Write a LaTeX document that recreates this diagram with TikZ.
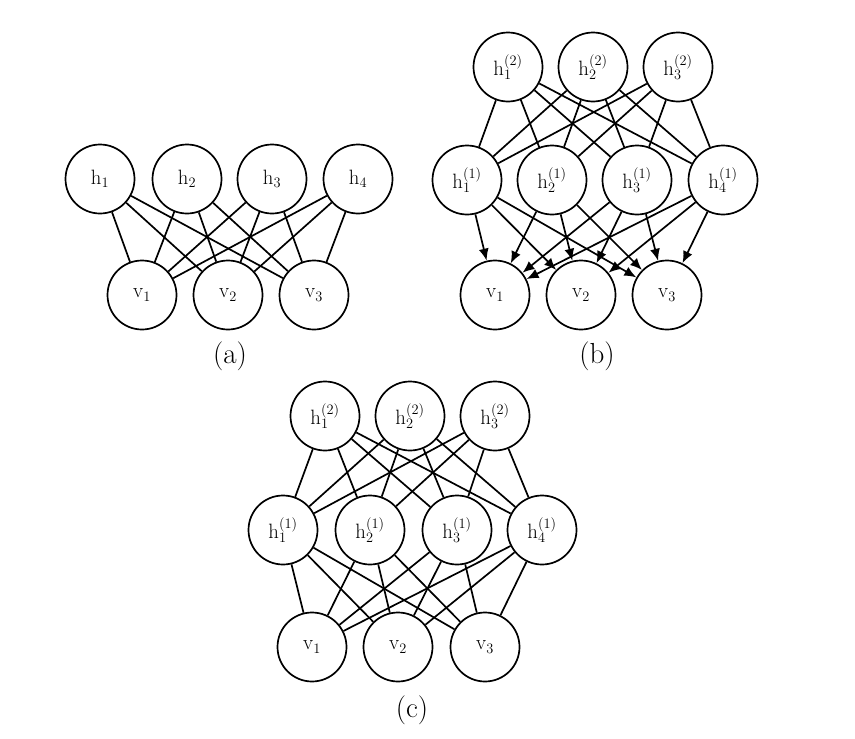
\documentclass[tikz,border=0pt]{standalone}
\usetikzlibrary{arrows.meta}
\begin{document}
\begin{tikzpicture}[x=1pt,y=-1pt,
  unit/.style={circle,draw,line width=1.7pt,minimum size=69pt,inner sep=0pt,font=\fontsize{21}{24}\selectfont},
  edge/.style={line width=1.7pt},
  arr/.style={line width=1.7pt,-{Latex[length=12pt,width=10pt]}},
  captxt/.style={font=\fontsize{29}{32}\selectfont}]
\useasboundingbox (0,0) rectangle (855,739);
% (a)
\foreach \x [count=\i] in {100,187,272,358} \node[unit] (ah\i) at (\x,179) {$\mathrm{h}_{\i}$};
\foreach \x [count=\i] in {142,228,314} \node[unit] (av\i) at (\x,295) {$\mathrm{v}_{\i}$};
\foreach \i in {1,...,4} \foreach \j in {1,2,3} \draw[edge] (ah\i) -- (av\j);
\node[captxt] (capa) at (230,356) {(a)};
% (b)
\foreach \x [count=\i] in {508,593,678} \node[unit] (bt\i) at (\x,67) {$\mathrm{h}^{(2)}_{\i}$};
\foreach \x [count=\i] in {467,552,637,723} \node[unit] (bm\i) at (\x,180) {$\mathrm{h}^{(1)}_{\i}$};
\foreach \x [count=\i] in {495,581,667} \node[unit] (bv\i) at (\x,295) {$\mathrm{v}_{\i}$};
\foreach \i in {1,2,3} \foreach \j in {1,...,4} \draw[edge] (bt\i) -- (bm\j);
\foreach \i in {1,...,4} \foreach \j in {1,2,3} \draw[arr] (bm\i) -- (bv\j);
\node[captxt] (capb) at (597,356) {(b)};
% (c)
\foreach \x [count=\i] in {325,410,495} \node[unit] (ct\i) at (\x,416) {$\mathrm{h}^{(2)}_{\i}$};
\foreach \x [count=\i] in {283,370,457,542} \node[unit] (cm\i) at (\x,530) {$\mathrm{h}^{(1)}_{\i}$};
\foreach \x [count=\i] in {312,398,485} \node[unit] (cv\i) at (\x,647) {$\mathrm{v}_{\i}$};
\foreach \i in {1,2,3} \foreach \j in {1,...,4} \draw[edge] (ct\i) -- (cm\j);
\foreach \i in {1,...,4} \foreach \j in {1,2,3} \draw[edge] (cm\i) -- (cv\j);
\node[captxt] (capc) at (412,710) {(c)};
\end{tikzpicture}
\end{document}
